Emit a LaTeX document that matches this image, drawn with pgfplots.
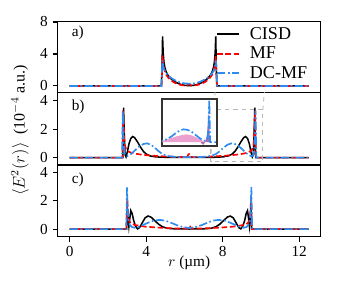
\documentclass[border=0pt]{standalone}
\usepackage{fontspec}
\setmainfont{Liberation Serif}
\usepackage{pgfplots}
\pgfplotsset{compat=1.18}
\definecolor{mfred}{RGB}{255,0,0}
\definecolor{dcblue}{RGB}{45,140,240}
\definecolor{inpink}{RGB}{236,160,208}
\definecolor{inpurple}{RGB}{178,104,178}
\newcommand{\tf}{\fontsize{11}{13}\selectfont}
\pgfplotsset{
  panel/.style={scale only axis, width=189.4pt,
    xmin=-0.625, xmax=13.125,
    tick align=outside, xtick pos=bottom, ytick pos=left,
    major tick length=3.5pt,
    axis line style={line width=0.8pt},
    every tick/.style={black, line width=0.8pt},
    /pgf/number format/assume math mode=true,
    ticklabel style={font=\tf},
    clip=true},
}
\begin{document}
\begin{tikzpicture}
\path[use as bounding box] (0,0) rectangle (242.64pt,208.8pt);
% panel a
\begin{axis}[panel, at={(41.5pt,142.1pt)}, anchor=south west, height=51.1pt,
  ymin=-0.84, ymax=8.04, ytick={0,4,8}, xtick=\empty,
  legend style={draw=none, fill=none, at={(0.96,0.965)}, anchor=north east,
    font=\fontsize{13}{15}\selectfont, row sep=0pt, inner sep=0pt,
    /tikz/every odd column/.append style={column sep=5pt}},
  legend cell align=left,
  legend image code/.code={\draw[#1] (0pt,0pt) -- (16pt,0pt);}]
\addplot[color=black, line width=1.1pt] coordinates {(0,0)(4.80,0)(4.83,2.0)(4.86,6.2)(4.89,4.2)(4.93,3.0)(4.98,2.3)(5.05,1.75)(5.15,1.3)(5.3,0.9)(5.45,0.6)(5.6,0.4)(5.8,0.2)(6.0,0.08)(6.25,0.03)(6.5,0.08)(6.7,0.2)(6.9,0.4)(7.05,0.6)(7.2,0.9)(7.35,1.3)(7.45,1.75)(7.52,2.3)(7.57,3.0)(7.61,4.2)(7.64,6.2)(7.67,2.0)(7.70,0)(12.5,0)};
\addlegendentry{CISD}
\addplot[color=mfred, line width=1.2pt, dash pattern=on 4pt off 2pt] coordinates {(0,0)(4.80,0)(4.83,1.5)(4.86,3.8)(4.89,3.0)(4.93,2.3)(4.98,1.8)(5.05,1.4)(5.15,1.05)(5.3,0.7)(5.45,0.45)(5.6,0.28)(5.8,0.13)(6.0,0.06)(6.15,0.05)(6.21,0.2)(6.25,0.22)(6.29,0.2)(6.35,0.05)(6.5,0.06)(6.7,0.13)(6.9,0.28)(7.05,0.45)(7.2,0.7)(7.35,1.05)(7.45,1.4)(7.52,1.8)(7.57,2.3)(7.61,3.0)(7.64,3.8)(7.67,1.5)(7.70,0)(12.5,0)};
\addlegendentry{MF}
\addplot[color=dcblue, line width=1.2pt, dash pattern=on 6pt off 1.8pt on 1.2pt off 1.8pt] coordinates {(0,0)(4.79,0)(4.82,1.5)(4.85,3.2)(4.88,2.6)(4.92,2.2)(4.99,1.8)(5.1,1.45)(5.25,1.1)(5.4,0.85)(5.6,0.6)(5.8,0.42)(6.0,0.32)(6.25,0.28)(6.5,0.32)(6.7,0.42)(6.9,0.6)(7.1,0.85)(7.25,1.1)(7.4,1.45)(7.51,1.8)(7.58,2.2)(7.62,2.6)(7.65,3.2)(7.68,1.5)(7.71,0)(12.5,0)};
\addlegendentry{DC-MF}
\node[anchor=west, font=\tf] at (rel axis cs:0.035,0.84) {a)};
\end{axis}
% panel b
\begin{axis}[panel, at={(41.5pt,90pt)}, anchor=south west, height=52.1pt,
  ymin=-0.52, ymax=4.56, ytick={0,2,4}, xtick=\empty]
\addplot[color=black, line width=1.1pt] coordinates {(0,0)(2.78,0)(2.82,3.5)(2.86,1.5)(2.90,0.2)(2.95,0.05)(3.02,0.4)(3.1,0.95)(3.2,1.35)(3.3,1.48)(3.4,1.4)(3.55,1.1)(3.7,0.75)(3.85,0.45)(4.0,0.25)(4.2,0.12)(4.5,0.05)(5.0,0.02)(6.25,0.01)(7.5,0.02)(8.0,0.05)(8.3,0.12)(8.5,0.25)(8.65,0.45)(8.8,0.75)(8.95,1.1)(9.1,1.4)(9.2,1.48)(9.3,1.35)(9.4,0.95)(9.48,0.4)(9.55,0.05)(9.60,0.2)(9.64,1.5)(9.68,3.5)(9.72,0)(12.5,0)};
\addplot[color=mfred, line width=1.2pt, dash pattern=on 4pt off 2pt] coordinates {(0,0)(2.76,0)(2.80,3.3)(2.84,2.0)(2.88,0.9)(2.95,0.6)(3.05,0.45)(3.2,0.35)(3.4,0.28)(3.7,0.22)(4.0,0.17)(4.5,0.12)(5.0,0.08)(5.5,0.05)(6.0,0.04)(6.15,0.05)(6.21,0.22)(6.25,0.25)(6.29,0.22)(6.35,0.05)(6.5,0.04)(7.0,0.05)(7.5,0.08)(8.0,0.12)(8.5,0.17)(8.8,0.22)(9.1,0.28)(9.3,0.35)(9.45,0.45)(9.55,0.6)(9.62,0.9)(9.66,2.0)(9.70,3.3)(9.74,0)(12.5,0)};
\addplot[color=dcblue, line width=1.2pt, dash pattern=on 6pt off 1.8pt on 1.2pt off 1.8pt] coordinates {(0,0)(2.74,0)(2.78,3.3)(2.82,1.2)(2.86,0.4)(2.92,0.15)(3.0,0.1)(3.1,0.15)(3.25,0.3)(3.45,0.55)(3.65,0.8)(3.85,0.95)(4.05,1.0)(4.25,0.9)(4.45,0.7)(4.65,0.45)(4.85,0.25)(5.1,0.12)(5.5,0.05)(6.25,0.03)(7.0,0.05)(7.4,0.12)(7.65,0.25)(7.85,0.45)(8.05,0.7)(8.25,0.9)(8.45,1.0)(8.65,0.95)(8.85,0.8)(9.05,0.55)(9.25,0.3)(9.4,0.15)(9.5,0.1)(9.58,0.15)(9.64,0.4)(9.68,1.2)(9.72,3.3)(9.76,0)(12.5,0)};
\draw[black!28, dashed, line width=0.6pt] (axis cs:7.37,-0.3) rectangle (axis cs:10.1,3.36);
\draw[black!28, dashed, line width=0.6pt] (axis cs:7.37,-0.3) -- (116.6pt,103.7pt);
\draw[black!28, dashed, line width=0.6pt] (axis cs:10.1,3.36) -- (156.2pt,137.5pt);
\node[anchor=west, font=\tf] at (rel axis cs:0.035,0.81) {b)};
\end{axis}
% inset
\begin{axis}[at={(116.6pt,103.7pt)}, anchor=south west, scale only axis,
  width=39.6pt, height=33.8pt, xmin=7.37, xmax=10.1, ymin=-0.3, ymax=3.36,
  ticks=none, axis line style={line width=1.1pt, black!80},
  axis background/.style={fill=white}]
\addplot[fill=inpink, draw=none] coordinates {(7.37,0)(7.4,0.1)(7.6,0.2)(7.85,0.32)(8.1,0.45)(8.35,0.55)(8.6,0.6)(8.8,0.55)(9.0,0.42)(9.15,0.3)(9.3,0.22)(9.42,0.05)(9.48,0)} \closedcycle;
\addplot[fill=inpurple, draw=none] coordinates {(9.3,0)(9.36,-0.15)(9.44,-0.2)(9.52,0.05)(9.6,0.5)(9.65,1.5)(9.7,2.4)(9.74,0.5)(9.78,0)} \closedcycle;
\addplot[color=dcblue, line width=1.2pt, dash pattern=on 6pt off 1.8pt on 1.2pt off 1.8pt] coordinates {(7.0,0.05)(7.4,0.12)(7.65,0.25)(7.85,0.45)(8.05,0.7)(8.25,0.9)(8.45,1.0)(8.65,0.95)(8.85,0.8)(9.05,0.55)(9.25,0.3)(9.4,0.15)(9.5,0.1)(9.58,0.15)(9.64,0.4)(9.68,1.2)(9.72,3.3)(9.76,0)(12.5,0)};
\end{axis}
% panel c
\begin{axis}[panel, at={(41.5pt,38.4pt)}, anchor=south west, height=51.6pt,
  ymin=-0.53, ymax=4.51, ytick={0,2,4}, xtick={0,4,8,12}]
\addplot[color=black, line width=1.1pt] coordinates {(0,0)(2.98,0)(3.02,1.5)(3.06,0.8)(3.10,0.2)(3.15,0.8)(3.2,1.3)(3.27,1.1)(3.35,0.6)(3.45,0.2)(3.55,0.02)(3.65,0.1)(3.8,0.45)(3.95,0.8)(4.1,0.92)(4.25,0.85)(4.45,0.6)(4.65,0.35)(4.85,0.17)(5.1,0.06)(5.5,0.02)(6.25,0.01)(7.0,0.02)(7.4,0.06)(7.65,0.17)(7.85,0.35)(8.05,0.6)(8.25,0.85)(8.4,0.92)(8.55,0.8)(8.7,0.45)(8.85,0.1)(8.95,0.02)(9.05,0.2)(9.15,0.6)(9.23,1.1)(9.3,1.3)(9.35,0.8)(9.40,0.2)(9.44,0.8)(9.48,1.5)(9.52,0)(12.5,0)};
\addplot[color=mfred, line width=1.2pt, dash pattern=on 4pt off 2pt] coordinates {(0,0)(2.97,0)(3.01,2.2)(3.05,1.2)(3.1,0.6)(3.2,0.4)(3.4,0.3)(3.7,0.22)(4.0,0.17)(4.5,0.12)(5.0,0.08)(5.5,0.05)(6.0,0.04)(6.15,0.05)(6.21,0.2)(6.25,0.22)(6.29,0.2)(6.35,0.05)(6.5,0.04)(7.0,0.05)(7.5,0.08)(8.0,0.12)(8.5,0.17)(8.8,0.22)(9.1,0.3)(9.3,0.4)(9.4,0.6)(9.45,1.2)(9.49,2.2)(9.53,0)(12.5,0)};
\addplot[color=dcblue, line width=1.2pt, dash pattern=on 6pt off 1.8pt on 1.2pt off 1.8pt] coordinates {(0,0)(2.96,0)(3.0,2.95)(3.04,1.3)(3.08,0.5)(3.15,0.3)(3.25,0.15)(3.4,0.1)(3.6,0.15)(3.85,0.3)(4.1,0.45)(4.4,0.6)(4.7,0.65)(5.0,0.6)(5.3,0.45)(5.6,0.28)(5.9,0.15)(6.25,0.08)(6.6,0.15)(6.9,0.28)(7.2,0.45)(7.5,0.6)(7.8,0.65)(8.1,0.6)(8.4,0.45)(8.65,0.3)(8.9,0.15)(9.1,0.1)(9.25,0.15)(9.35,0.3)(9.42,0.5)(9.46,1.3)(9.5,2.95)(9.54,0)(12.5,0)};
\node[anchor=west, font=\tf] at (rel axis cs:0.035,0.80) {c)};
\end{axis}
\node[rotate=90, font=\fontsize{11.5}{13}\selectfont] at (14.4pt,115pt) {$\langle E^2(r)\rangle$\ \ (10$^{-4}$ a.u.)};
\node[font=\tf] at (136.2pt,19.4pt) {$r$ (µm)};
\end{tikzpicture}
\end{document}
